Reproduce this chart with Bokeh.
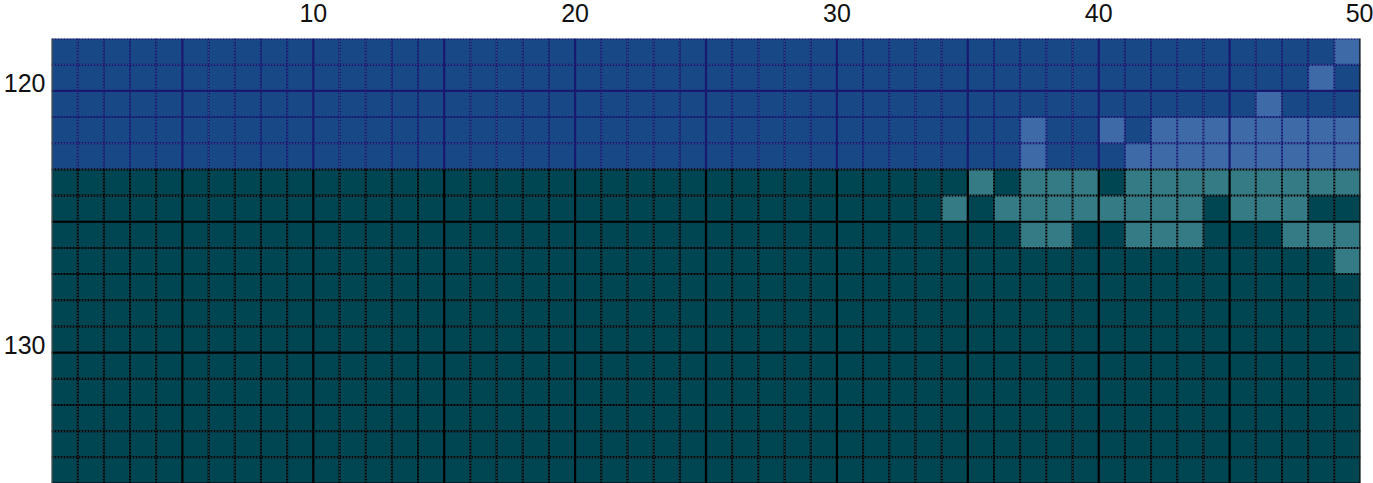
from bokeh.plotting import figure
from bokeh.models import Range1d, FixedTicker, LinearAxis
from bokeh.embed import file_html
from bokeh.resources import INLINE

# ---- data ----
columns = list(range(1, 51))
rows = list(range(119, 136))
blue_rows = [119, 120, 121, 122, 123]
teal_rows = [124, 125, 126, 127, 128, 129, 130, 131, 132, 133, 134, 135]

# highlighted (light) cells per row, by column
light_blue = {
    119: [50],
    120: [49],
    121: [47],
    122: [38, 41, 43, 44, 45, 46, 47, 48, 49, 50],
    123: [38, 42, 43, 44, 45, 46, 47, 48, 49, 50],
}
light_teal = {
    124: [36, 38, 39, 40, 42, 43, 44, 45, 46, 47, 48, 49, 50],
    125: [35, 37, 38, 39, 40, 41, 42, 43, 44, 46, 47, 48],
    126: [38, 39, 42, 43, 44, 48, 49, 50],
    127: [50],
}

x_ticks = [10, 20, 30, 40, 50]
y_ticks = [120, 130]

DARK_BLUE = "#194887"
LIGHT_BLUE = "#3e6ba8"
DARK_TEAL = "#004552"
LIGHT_TEAL = "#357b86"
BLUE_LINE = "#191970"
TEAL_LINE = "#000000"
TEXT = "#111111"

# ---- build cells ----
left, right, top, bottom, fill = [], [], [], [], []
for r in rows:
    for c in columns:
        left.append(c - 1)
        right.append(c)
        top.append(r - 1)
        bottom.append(r)
        if r in blue_rows:
            fill.append(LIGHT_BLUE if c in light_blue.get(r, []) else DARK_BLUE)
        else:
            fill.append(LIGHT_TEAL if c in light_teal.get(r, []) else DARK_TEAL)

x_min, x_max = columns[0] - 1, columns[-1]
y_min, y_max = rows[0] - 1, rows[-1]
split = blue_rows[-1]

p = figure(width=1373, height=483,
           x_range=Range1d(x_min, x_max), y_range=Range1d(y_max, y_min),
           x_axis_location="above", y_axis_location=None,
           output_backend="svg", toolbar_location=None,
           min_border_left=50, min_border_top=38, min_border_right=13, min_border_bottom=0)
p.outline_line_color = None
p.grid.visible = False

p.quad(left=left, right=right, top=top, bottom=bottom, fill_color=fill, line_color=None)

# minor grid (dotted)
mx0, my0, mx1, my1, mcol = [], [], [], [], []
for x in range(x_min + 1, x_max):
    if x % 5 != 0:
        mx0 += [x, x]; mx1 += [x, x]
        my0 += [y_min, split]; my1 += [split, y_max]
        mcol += [BLUE_LINE, TEAL_LINE]
for y in range(y_min, y_max):
    if y % 5 != 0:
        mx0.append(x_min); mx1.append(x_max)
        my0.append(y); my1.append(y)
        mcol.append(BLUE_LINE if y < split else TEAL_LINE)
p.segment(x0=mx0, y0=my0, x1=mx1, y1=my1, line_color=mcol, line_width=2, line_dash="2 1")

# major grid (solid)
Mx0, My0, Mx1, My1, Mcol = [], [], [], [], []
for x in range(x_min + 5, x_max, 5):
    Mx0 += [x, x]; Mx1 += [x, x]
    My0 += [y_min, split]; My1 += [split, y_max]
    Mcol += [BLUE_LINE, TEAL_LINE]
for y in range(y_min, y_max + 1):
    if y % 5 == 0:
        Mx0.append(x_min); Mx1.append(x_max)
        My0.append(y); My1.append(y)
        Mcol.append(BLUE_LINE if y < split else TEAL_LINE)
p.segment(x0=Mx0, y0=My0, x1=Mx1, y1=My1, line_color=Mcol, line_width=2.2)

# borders
p.segment(x0=[x_min], y0=[y_min], x1=[x_min], y1=[y_max], line_color="#4d4d4d", line_width=2.5)
p.segment(x0=[x_max], y0=[y_min], x1=[x_max], y1=[y_max], line_color="#111111", line_width=2.5)

# row-label axis: labels sit just above their row line (offset of 0.3 row)
label_shift = 0.3
p.extra_y_ranges = {"rowlabels": Range1d(y_max + label_shift, y_min + label_shift)}
yax = LinearAxis(y_range_name="rowlabels")
p.add_layout(yax, "left")

for ax in (p.xaxis[0], yax):
    ax.axis_line_color = None
    ax.major_tick_line_color = None
    ax.minor_tick_line_color = None
    ax.major_tick_out = 0
    ax.major_tick_in = 0
    ax.major_label_text_font = "Liberation Sans"
    ax.major_label_text_font_size = "25px"
    ax.major_label_text_color = TEXT

p.xaxis[0].ticker = FixedTicker(ticks=x_ticks)
p.xaxis[0].major_label_standoff = 17
yax.ticker = FixedTicker(ticks=y_ticks)
yax.major_label_standoff = 6

open("out.html", "w").write(file_html(p, INLINE))
